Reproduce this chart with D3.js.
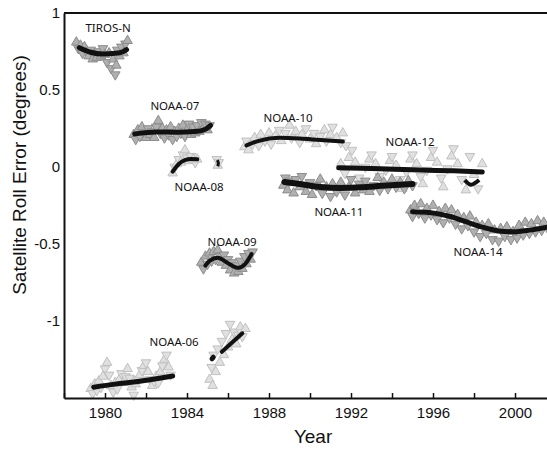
<!DOCTYPE html>
<html>
<head>
<meta charset="utf-8">
<script src="https://cdn.jsdelivr.net/npm/d3@7"></script>
<style>
  body { margin: 0; background: #fff; }
  .axis text { font-family: "Liberation Sans", Arial, sans-serif; font-size: 15px; fill: #111; }
  .sat-label { font-family: "Noto Sans", sans-serif; font-size: 11.5px; fill: #111; }
  .title { font-family: "Liberation Sans", Arial, sans-serif; fill: #111; }
</style>
</head>
<body>
<div id="chart"></div>
<script>

// roll error samples, [year, degrees]
var tirosN = [[1978.6,0.81],[1978.7,0.77],[1978.8,0.79],[1978.9,0.74],[1979.0,0.78],[1979.1,0.75],[1979.2,0.72],[1979.3,0.76],[1979.4,0.70],[1979.5,0.74],[1979.6,0.71],[1979.7,0.75],[1979.8,0.72],[1979.9,0.77],[1980.0,0.73],[1980.1,0.68],[1980.2,0.74],[1980.3,0.64],[1980.4,0.70],[1980.5,0.60],[1980.55,0.66],[1980.6,0.76],[1980.7,0.72],[1980.8,0.78],[1980.9,0.74],[1981.0,0.80],[1981.1,0.82]];
var noaa06 = [[1979.3,-1.44],[1979.4,-1.47],[1979.5,-1.41],[1979.6,-1.45],[1979.7,-1.39],[1979.8,-1.43],[1979.9,-1.36],[1980.0,-1.31],[1980.1,-1.27],[1980.2,-1.35],[1980.3,-1.42],[1980.4,-1.46],[1980.5,-1.40],[1980.6,-1.44],[1980.7,-1.38],[1980.8,-1.34],[1980.9,-1.40],[1981.0,-1.36],[1981.1,-1.31],[1981.2,-1.37],[1981.3,-1.43],[1981.4,-1.48],[1981.5,-1.41],[1981.6,-1.38],[1981.7,-1.35],[1981.8,-1.32],[1981.9,-1.29],[1982.0,-1.27],[1982.1,-1.33],[1982.2,-1.38],[1982.3,-1.42],[1982.4,-1.39],[1982.5,-1.36],[1982.6,-1.40],[1982.7,-1.33],[1982.8,-1.29],[1982.9,-1.25],[1983.0,-1.22],[1983.1,-1.30],[1983.2,-1.35],
  [1985.1,-1.38],[1985.2,-1.30],[1985.25,-1.42],[1985.3,-1.22],[1985.4,-1.33],[1985.5,-1.18],[1985.6,-1.27],[1985.7,-1.13],[1985.8,-1.22],[1985.9,-1.08],[1986.0,-1.17],[1986.1,-1.02],[1986.2,-1.12],[1986.3,-1.07],[1986.4,-1.15],[1986.5,-1.09],[1986.6,-1.04],[1986.7,-1.10],[1986.85,-1.05]];
var noaa07 = [[1981.4,0.21],[1981.5,0.18],[1981.6,0.24],[1981.7,0.20],[1981.8,0.26],[1981.9,0.22],[1982.0,0.19],[1982.1,0.25],[1982.2,0.21],[1982.3,0.23],[1982.4,0.19],[1982.5,0.26],[1982.6,0.30],[1982.7,0.22],[1982.8,0.25],[1982.9,0.19],[1983.0,0.24],[1983.1,0.21],[1983.2,0.26],[1983.3,0.18],[1983.4,0.23],[1983.5,0.20],[1983.6,0.25],[1983.7,0.22],[1983.8,0.27],[1983.9,0.20],[1984.0,0.24],[1984.1,0.28],[1984.2,0.21],[1984.3,0.26],[1984.4,0.22],[1984.5,0.27],[1984.6,0.23],[1984.7,0.29],[1984.8,0.25],[1984.9,0.28],[1985.0,0.24],[1985.1,0.27]];
var noaa08 = [[1983.3,-0.04],[1983.4,0.0],[1983.5,0.02],[1983.6,0.05],[1983.7,0.03],[1983.8,0.08],[1983.9,0.11],[1984.0,0.06],[1984.1,0.04],[1984.2,0.07],[1984.3,0.05],[1984.4,0.03],[1984.5,0.05],[1985.45,0.05],[1985.5,0.01],[1985.55,0.03]];
var noaa09 = [[1984.7,-0.62],[1984.8,-0.66],[1984.9,-0.58],[1985.0,-0.63],[1985.1,-0.56],[1985.2,-0.61],[1985.3,-0.55],[1985.4,-0.60],[1985.5,-0.54],[1985.6,-0.58],[1985.7,-0.62],[1985.8,-0.57],[1985.9,-0.64],[1986.0,-0.60],[1986.1,-0.67],[1986.2,-0.62],[1986.3,-0.69],[1986.4,-0.64],[1986.5,-0.68],[1986.6,-0.61],[1986.7,-0.66],[1986.8,-0.58],[1986.9,-0.63],[1987.0,-0.56],[1987.1,-0.60],[1987.2,-0.55]];
var noaa10 = [[1986.8,0.13],[1986.9,0.17],[1987.0,0.11],[1987.2,0.15],[1987.3,0.19],[1987.5,0.14],[1987.6,0.21],[1987.8,0.17],[1988.0,0.22],[1988.1,0.15],[1988.3,0.20],[1988.5,0.24],[1988.6,0.17],[1988.8,0.22],[1989.0,0.27],[1989.1,0.19],[1989.3,0.23],[1989.5,0.16],[1989.6,0.21],[1989.8,0.25],[1990.0,0.18],[1990.2,0.22],[1990.3,0.15],[1990.5,0.20],[1990.7,0.24],[1990.8,0.17],[1991.0,0.21],[1991.1,0.26],[1991.3,0.19],[1991.5,0.16],[1991.6,0.22],[1991.75,0.14]];
var noaa11 = [[1988.7,-0.12],[1988.8,-0.07],[1988.9,-0.15],[1989.0,-0.09],[1989.2,-0.17],[1989.3,-0.08],[1989.5,-0.13],[1989.6,-0.06],[1989.8,-0.16],[1990.0,-0.10],[1990.1,-0.18],[1990.3,-0.12],[1990.5,-0.08],[1990.6,-0.17],[1990.8,-0.13],[1991.0,-0.19],[1991.1,-0.11],[1991.3,-0.16],[1991.5,-0.10],[1991.7,-0.18],[1991.9,-0.13],[1992.0,-0.08],[1992.2,-0.17],[1992.4,-0.11],[1992.6,-0.15],[1992.7,-0.09],[1992.9,-0.16],[1993.1,-0.12],[1993.3,-0.07],[1993.4,-0.15],[1993.6,-0.10],[1993.8,-0.14],[1994.0,-0.08],[1994.2,-0.13],[1994.4,-0.10],[1994.6,-0.14],[1994.8,-0.09],[1995.0,-0.12]];
var noaa12 = [[1991.5,0.02],[1991.7,-0.04],[1991.9,0.06],[1992.05,0.11],[1992.2,0.03],[1992.4,-0.07],[1992.5,-0.13],[1992.7,0.0],[1992.9,0.05],[1993.0,0.08],[1993.2,0.02],[1993.4,-0.06],[1993.5,-0.12],[1993.7,-0.02],[1993.9,0.04],[1994.0,0.07],[1994.2,0.01],[1994.4,-0.08],[1994.5,-0.14],[1994.7,-0.03],[1994.9,0.05],[1995.0,0.08],[1995.2,0.02],[1995.4,-0.06],[1995.5,-0.11],[1995.7,-0.02],[1995.9,0.06],[1996.0,0.11],[1996.2,0.03],[1996.4,-0.07],[1996.5,-0.13],[1996.7,-0.01],[1996.9,0.07],[1997.0,0.12],[1997.2,0.02],[1997.4,-0.08],[1997.6,-0.15],[1997.8,0.07],[1998.0,-0.05],[1998.2,-0.14],[1998.4,0.02]];
var noaa14 = [[1994.9,-0.28],[1995.0,-0.32],[1995.1,-0.25],[1995.3,-0.30],[1995.4,-0.24],[1995.6,-0.33],[1995.7,-0.27],[1995.9,-0.31],[1996.0,-0.25],[1996.2,-0.34],[1996.3,-0.29],[1996.5,-0.36],[1996.6,-0.27],[1996.8,-0.33],[1996.9,-0.28],[1997.1,-0.37],[1997.2,-0.31],[1997.4,-0.40],[1997.5,-0.33],[1997.7,-0.38],[1997.8,-0.32],[1998.0,-0.42],[1998.1,-0.36],[1998.3,-0.45],[1998.4,-0.38],[1998.6,-0.43],[1998.7,-0.37],[1998.9,-0.47],[1999.0,-0.41],[1999.2,-0.48],[1999.3,-0.40],[1999.5,-0.45],[1999.6,-0.39],[1999.8,-0.47],[1999.9,-0.42],[2000.1,-0.46],[2000.2,-0.38],[2000.4,-0.44],[2000.5,-0.36],[2000.7,-0.43],[2000.8,-0.37],[2001.0,-0.42],[2001.1,-0.35],[2001.3,-0.41],[2001.4,-0.36],[2001.6,-0.40]];

// fitted curves, [year, degrees]
var tirosFit = [[1978.75,0.775],[1979.3,0.745],[1979.9,0.733],[1980.5,0.738],[1980.9,0.75],[1981.05,0.762]];
var noaa06Fit = [[1979.45,-1.43],[1980.5,-1.41],[1981.5,-1.395],[1982.5,-1.375],[1983.3,-1.357]];
var noaa06FitB = [[1985.7,-1.2],[1986.7,-1.08]];
var noaa06Dot = [[1985.22,-1.245],[1985.28,-1.235]];
var noaa07Fit = [[1981.45,0.215],[1982.5,0.228],[1983.5,0.226],[1984.4,0.23],[1984.9,0.245],[1985.15,0.27]];
var noaa08Fit = [[1983.3,-0.03],[1983.6,0.02],[1983.9,0.045],[1984.2,0.052],[1984.5,0.05]];
var noaa08FitB = [[1985.48,0.045],[1985.53,0.025],[1985.5,0.005]];
var noaa09Fit = [[1984.9,-0.64],[1985.1,-0.61],[1985.5,-0.59],[1986.0,-0.625],[1986.5,-0.655],[1986.9,-0.62],[1987.15,-0.565]];
var noaa10Fit = [[1986.9,0.14],[1987.5,0.17],[1988.5,0.19],[1989.5,0.185],[1990.5,0.175],[1991.6,0.165]];
var noaa11Fit = [[1988.75,-0.097],[1989.5,-0.11],[1990.5,-0.13],[1991.5,-0.136],[1992.5,-0.132],[1993.5,-0.122],[1995.0,-0.11]];
var noaa12Fit = [[1991.4,-0.005],[1993,-0.01],[1995,-0.018],[1997,-0.025],[1998.4,-0.033]];
var noaa12FitB = [[1997.55,-0.085],[1997.85,-0.115],[1998.25,-0.085]];
var noaa14Fit = [[1995.0,-0.29],[1995.8,-0.295],[1996.8,-0.32],[1997.6,-0.355],[1998.4,-0.39],[1999.2,-0.415],[1999.9,-0.42],[2000.7,-0.41],[2001.6,-0.39]];

// satellite names and where their labels sit
var satNames = ["TIROS-N", "NOAA-07", "NOAA-08", "NOAA-06", "NOAA-09", "NOAA-10", "NOAA-12", "NOAA-11", "NOAA-14"];
var labelYears = [1980.15, 1983.41, 1984.59, 1983.37, 1986.2, 1988.93, 1994.88, 1991.41, 1998.2];
var labelValues = [0.90, 0.396, -0.13, -1.136, -0.487, 0.318, 0.162, -0.292, -0.552];

var yTicks = [1, 0.5, 0, -0.5, -1];
var xTicks = [1978, 1980, 1982, 1984, 1986, 1988, 1990, 1992, 1994, 1996, 1998, 2000];

var margin = {top: 13, right: 0, bottom: 51, left: 64},
    width = 547 - margin.left - margin.right,
    height = 449 - margin.top - margin.bottom;

var x = d3.scaleLinear().domain([1978, 2001.56]).range([0, width]),
    y = d3.scaleLinear().domain([-1.5, 1]).range([height, 0]);

var svg = d3.select("#chart")
  .append("svg")
    .attr("width", width + margin.left + margin.right)
    .attr("height", height + margin.top + margin.bottom)
  .append("g")
    .attr("transform", "translate(" + margin.left + "," + margin.top + ")");

// scatter of triangles
var medium = {fill: "#b0b0b0", stroke: "#8c8c8c"},
    light = {fill: "#e0e0e0", stroke: "#c0c0c0"};

var clouds = [
  {pts: tirosN, col: medium}, {pts: noaa06, col: light}, {pts: noaa07, col: medium},
  {pts: noaa08, col: light}, {pts: noaa09, col: medium}, {pts: noaa10, col: light},
  {pts: noaa12, col: light}, {pts: noaa11, col: medium}, {pts: noaa14, col: medium}
];

var tri = d3.symbol().type(d3.symbolTriangle).size(40);

clouds.forEach(function(c) {
  svg.append("g").selectAll("path")
    .data(c.pts)
    .enter().append("path")
      .attr("d", tri)
      .attr("transform", function(d, i) {
        return "translate(" + x(d[0]) + "," + y(d[1]) + ")" + (i % 2 ? " rotate(180)" : "");
      })
      .attr("fill", c.col.fill)
      .attr("stroke", c.col.stroke)
      .attr("stroke-width", 1);
});

// fitted lines
var line = d3.line()
  .x(function(d) { return x(d[0]); })
  .y(function(d) { return y(d[1]); })
  .curve(d3.curveMonotoneX);

var fits = [
  {d: tirosFit, w: 5}, {d: noaa06Fit, w: 5}, {d: noaa06FitB, w: 4}, {d: noaa06Dot, w: 5},
  {d: noaa07Fit, w: 5}, {d: noaa08Fit, w: 4}, {d: noaa09Fit, w: 4},
  {d: noaa10Fit, w: 4}, {d: noaa11Fit, w: 6}, {d: noaa12Fit, w: 5}, {d: noaa14Fit, w: 5}
];

fits.forEach(function(f) {
  svg.append("path")
    .attr("d", line(f.d))
    .attr("fill", "none")
    .attr("stroke", "#111")
    .attr("stroke-width", f.w)
    .attr("stroke-linecap", "round");
});

svg.append("path")
  .attr("d", d3.line().x(function(d) { return x(d[0]); }).y(function(d) { return y(d[1]); }).curve(d3.curveCatmullRom)(noaa08FitB))
  .attr("fill", "none").attr("stroke", "#111").attr("stroke-width", 3);
svg.append("path")
  .attr("d", d3.line().x(function(d) { return x(d[0]); }).y(function(d) { return y(d[1]); }).curve(d3.curveCatmullRom)(noaa12FitB))
  .attr("fill", "none").attr("stroke", "#111").attr("stroke-width", 4);

// satellite names
svg.selectAll(".sat-label")
  .data(satNames)
  .enter().append("text")
    .attr("class", "sat-label")
    .attr("x", function(d, i) { return x(labelYears[i]); })
    .attr("y", function(d, i) { return y(labelValues[i]); })
    .attr("text-anchor", "middle")
    .attr("dy", "0.35em")
    .text(function(d) { return d; });

// axes
var xAxis = d3.axisBottom(x)
  .tickValues(xTicks)
  .tickSizeInner(-5)
  .tickSizeOuter(0)
  .tickPadding(9)
  .tickFormat(function(d) { return d % 4 === 0 ? d : ""; });

var yAxis = d3.axisLeft(y)
  .tickValues(yTicks)
  .tickSize(0)
  .tickPadding(4)
  .tickFormat(function(d) { return d; });

var gx = svg.append("g")
    .attr("class", "axis")
    .attr("transform", "translate(0," + height + ")")
    .call(xAxis);

var gy = svg.append("g")
    .attr("class", "axis")
    .call(yAxis);

gx.select(".domain").attr("stroke", "#111").attr("stroke-width", 2);
gx.selectAll(".tick line").attr("stroke", "#111").attr("stroke-width", 1.5);
gy.select(".domain").attr("stroke", "#111").attr("stroke-width", 2);

// top frame line
svg.append("line")
  .attr("x1", 0).attr("x2", width)
  .attr("y1", 0).attr("y2", 0)
  .attr("stroke", "#111").attr("stroke-width", 2);

svg.append("text")
  .attr("class", "title")
  .attr("x", x(1990.15))
  .attr("y", height + 45)
  .attr("text-anchor", "middle")
  .style("font-size", "19px")
  .text("Year");

svg.append("text")
  .attr("class", "title")
  .attr("transform", "translate(" + (-38) + "," + (162) + ") rotate(-90)")
  .attr("text-anchor", "middle")
  .style("font-size", "19px")
  .text("Satellite Roll Error (degrees)");

</script>
</body>
</html>
